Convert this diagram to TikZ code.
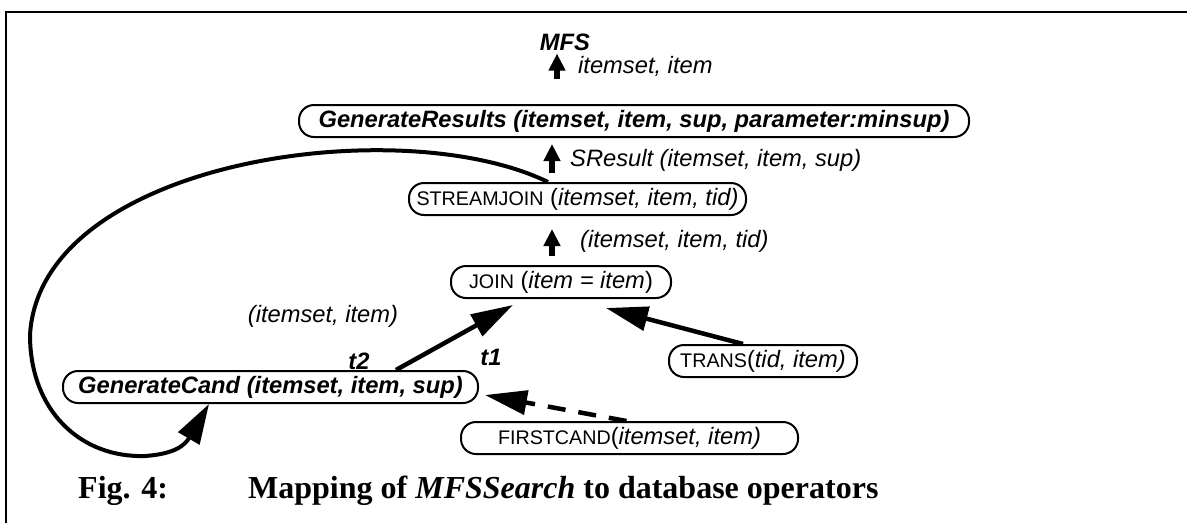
\documentclass[tikz,border=0pt]{standalone}
\usepackage{fontspec}
\setmainfont{Liberation Serif}
\setsansfont{Liberation Sans}
\usetikzlibrary{arrows.meta}
\newcommand{\opcaps}[1]{{\fontsize{19.7pt}{20pt}\selectfont #1}}
\begin{document}
\begin{tikzpicture}[x=1pt,y=-1pt,
    box/.style={draw,line width=2pt,rounded corners=15pt,minimum height=32pt,
        inner xsep=4pt,inner ysep=0pt,anchor=west,
        font=\sffamily\fontsize{23.7pt}{28pt}\selectfont},
    lbl/.style={inner sep=0pt,font=\sffamily\itshape\fontsize{23.7pt}{28pt}\selectfont},
    arr/.style={line width=4.5pt,-{Triangle[length=42pt,width=24pt]}},
    uparr/.style={line width=5.5pt,-{Triangle[length=17pt,width=16pt]}}]

    \useasboundingbox (0,0) rectangle (1187,523);

    % Marco
    \draw[line width=2.5pt] (6,523) -- (6,12) -- (1187,12);

    % Operadores
    \node[box,minimum width=670pt] (genres) at (298,121)
        {\bfseries\itshape GenerateResults (itemset, item, sup, parameter:minsup)};
    \node[box,minimum width=337pt] (sj) at (408,199)
        {\opcaps{STREAMJOIN} (\textit{itemset, item, tid)}};
    \node[box,minimum width=220pt] (join) at (450,282)
        {\opcaps{JOIN} (\textit{item = item})};
    \node[box,minimum width=188pt] (trans) at (668,361)
        {\opcaps{TRANS}(\textit{tid, item)}};
    \node[box,minimum width=415pt] (gc) at (62,387)
        {\bfseries\itshape GenerateCand (itemset, item, sup)};
    \node[box,minimum width=337pt] (fc) at (460,438)
        {\opcaps{FIRSTCAND}(\textit{itemset, item)}\hspace{17pt}};

    % Etiquetas
    \node[lbl] (mfs) at (565,42) {\bfseries MFS};
    \node[lbl,anchor=west] (l1) at (578,66) {itemset, item};
    \node[lbl,anchor=west] (l2) at (570,160) {SResult (itemset, item, sup)};
    \node[lbl,anchor=west] (l3) at (580,241) {(itemset, item, tid)};
    \node[lbl] (l4) at (323,316) {(itemset, item)};
    \node[lbl] (t2) at (359,361) {\bfseries t2};
    \node[lbl] (t1) at (491,357) {\bfseries t1};

    % Flechas
    \coordinate (colx) at (552,0);
    \coordinate (coltop) at (557,0);
    \draw[uparr,shorten <=25pt,shorten >=3pt] (genres.north -| coltop) -- (mfs.south -| coltop);
    \draw[uparr,shorten <=9pt,shorten >=6pt] (sj.north -| colx) -- (genres.south -| colx);
    \draw[uparr,shorten <=9pt,shorten >=13pt] (join.north -| colx) -- (sj.south -| colx);

    \draw[arr] ([xshift=125.5pt]gc.north) -- ([xshift=-48pt,yshift=-6pt]join.south);
    \draw[arr] ([xshift=-20pt]trans.north) -- ([xshift=45pt,yshift=-9pt]join.south);
    \draw[arr,dash pattern=on 18pt off 13pt] ([xshift=-3pt]fc.north)
        -- ([xshift=6pt,yshift=-8pt]gc.east);

    % Retroalimentacion
    \draw[line width=4pt,-{Triangle[length=40pt,width=24pt]}] ([xshift=-29.5pt]sj.north)
        .. controls (400,110) and (40,160) .. (30,335)
        .. controls (30,410) and (80,458) .. (145,456)
        .. controls (175,454) and (185,445) .. ([xshift=-61.5pt]gc.south);

    % Pie
    \node[anchor=west,inner sep=0pt,font=\bfseries\fontsize{32pt}{36pt}\selectfont]
        (figno) at (78,491) {Fig. 4:};
    \node[anchor=west,inner sep=0pt,font=\bfseries\fontsize{32pt}{36pt}\selectfont]
        (caption) at (248,491) {Mapping of \textit{MFSSearch} to database operators};

\end{tikzpicture}
\end{document}
